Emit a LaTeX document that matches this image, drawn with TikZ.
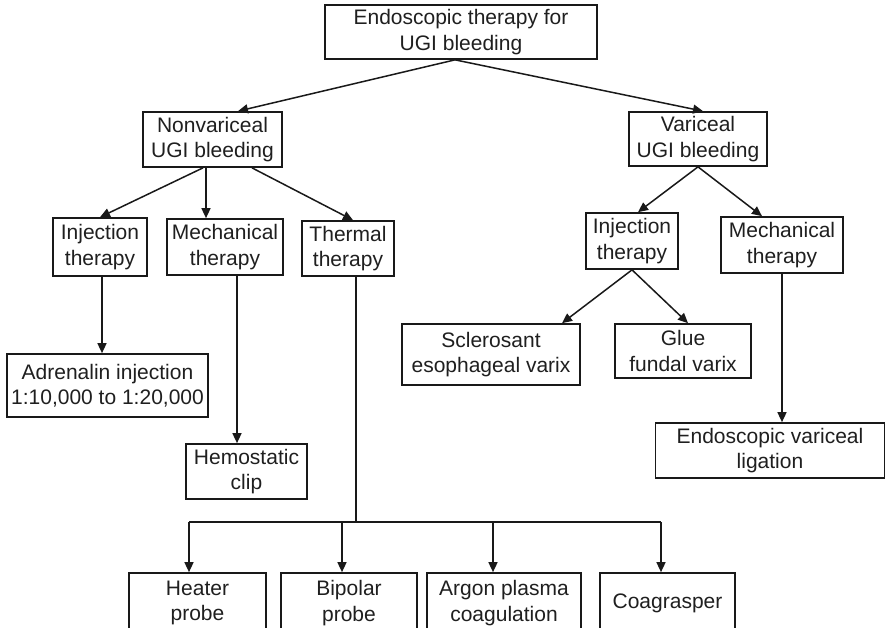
\documentclass[tikz,border=0pt]{standalone}
\usepackage{fontspec}
\setmainfont{Liberation Sans}
\usetikzlibrary{arrows.meta}
\begin{document}
\begin{tikzpicture}[x=1pt,y=-1pt,
  box/.style={draw=black!90, line width=1.7pt, align=center, inner sep=0pt,
    font=\fontsize{21}{25.5}\selectfont, text=black!88},
  arr/.style={line width=1.5pt, draw=black!90, -{Triangle[length=10pt,width=9pt]}},
  ln/.style={line width=1.5pt, draw=black!90}]
\useasboundingbox (0,0) rectangle (886,627);
\clip (0,0) rectangle (886,627);
\fill[white] (0,0) rectangle (886,627);
% nodes
\node[box, minimum width=272pt, minimum height=54pt] (top) at (461,32) {Endoscopic therapy for\\UGI bleeding};
\node[box, minimum width=139pt, minimum height=55pt] (nonvar) at (212.5,139.5) {Nonvariceal\\UGI bleeding};
\node[box, minimum width=138pt, minimum height=54pt] (var) at (698,139) {Variceal\\UGI bleeding};
\node[box, minimum width=94pt, minimum height=58pt] (inja) at (100,247) {Injection\\therapy};
\node[box, minimum width=116pt, minimum height=56pt] (mecha) at (225,247) {Mechanical\\therapy};
\node[box, minimum width=92pt, minimum height=55pt] (therm) at (348,248.5) {Thermal\\therapy};
\node[box, minimum width=92pt, minimum height=56pt] (injb) at (632,241) {Injection\\therapy};
\node[box, minimum width=122pt, minimum height=56pt] (mechb) at (782,245) {Mechanical\\therapy};
\node[box, minimum width=178pt, minimum height=61pt] (scler) at (491,354.5) {Sclerosant\\esophageal varix};
\node[box, minimum width=136pt, minimum height=54pt] (glue) at (683,351) {Glue\\fundal varix};
\node[box, minimum width=201pt, minimum height=63pt] (adren) at (107.5,385.5) {Adrenalin injection\\1:10,000 to 1:20,000};
\node[box, minimum width=121pt, minimum height=55pt] (hemo) at (246.5,471.5) {Hemostatic\\clip};
\node[box, minimum width=229pt, minimum height=55pt] (evl) at (770,450.5) {Endoscopic variceal\\ligation};
\node[box, minimum width=137pt, minimum height=60pt] (heater) at (197.5,603) {Heater\\probe};
\node[box, minimum width=136pt, minimum height=60pt] (bipolar) at (349,603) {Bipolar\\probe};
\node[box, minimum width=154pt, minimum height=60pt] (argon) at (504,603) {Argon plasma\\coagulation};
\node[box, minimum width=135pt, minimum height=60pt] (coag) at (667.5,603) {Coagrasper};
% connectors
\draw[arr] ([xshift=-6pt]top.south) -- ([xshift=25.5pt]nonvar.north);
\draw[arr] ([xshift=-6pt]top.south) -- ([xshift=5pt]var.north);
\draw[arr] ([xshift=-9.5pt]nonvar.south) -- (inja.north);
\draw[arr] ([xshift=-6.5pt]nonvar.south) -- ([xshift=-19pt]mecha.north);
\draw[arr] ([xshift=39.5pt]nonvar.south) -- ([xshift=5pt]therm.north);
\draw[arr] (var.south) -- ([xshift=6pt]injb.north);
\draw[arr] (var.south) -- ([xshift=-20pt]mechb.north);
\draw[arr] (injb.south) -- ([xshift=71pt]scler.north);
\draw[arr] (injb.south) -- ([xshift=5pt]glue.north);
\draw[arr] ([xshift=2pt]inja.south) -- ([xshift=2pt]inja.south |- adren.north);
\draw[arr] ([xshift=12pt]mecha.south) -- ([xshift=12pt]mecha.south |- hemo.north);
\draw[arr] (mechb.south) -- (mechb.south |- evl.north);
\coordinate (bar) at (356,522);
\coordinate (barL) at (189,522);
\coordinate (barR) at (661,522);
\draw[ln] ([xshift=8pt]therm.south) -- ([xshift=8pt]therm.south |- bar);
\draw[ln] (barL) -- (barR);
\draw[arr] (barL) -- (barL |- heater.north);
\draw[arr] ([xshift=-7pt]bipolar.north |- bar) -- ([xshift=-7pt]bipolar.north);
\draw[arr] ([xshift=-11pt]argon.north |- bar) -- ([xshift=-11pt]argon.north);
\draw[arr] (barR) -- (barR |- coag.north);
\end{tikzpicture}
\end{document}
